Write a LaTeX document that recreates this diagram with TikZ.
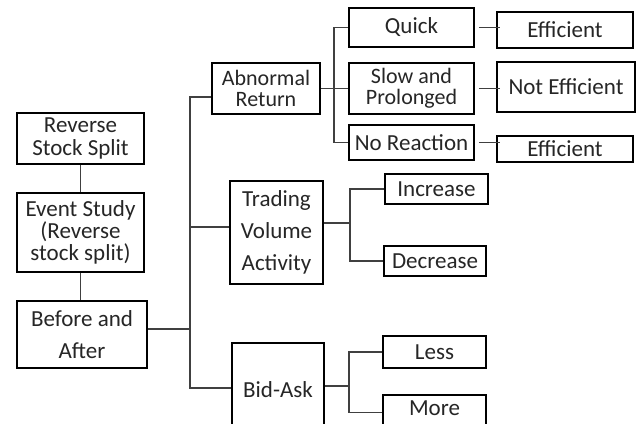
\documentclass[tikz,border=0pt]{standalone}
\usepackage{fontspec}
\setmainfont{Carlito}
\begin{document}
\begin{tikzpicture}[x=1pt,y=-1pt,
  box/.style={draw=black,line width=1.8pt,fill=white,inner sep=0pt,align=center,
    font=\fontsize{23}{23}\selectfont,text=black!85},
  conn/.style={draw=black!75,line width=1.7pt},
  tight/.style={font=\fontsize{22}{21.5}\selectfont},
  wide/.style={font=\fontsize{23}{32}\selectfont}]
\useasboundingbox (0,0) rectangle (636,423);
% left column
\node[box,minimum width=127,minimum height=51] (rss) at (80.5,138.5) {Reverse\\Stock Split};
\node[box,font=\fontsize{23}{22}\selectfont,minimum width=127,minimum height=79] (ev) at (80.5,232.5) {Event Study\\(Reverse\\stock split)};
\node[box,wide,minimum width=130,minimum height=67] (ba) at (82,334.5) {Before and\\After};
% middle column
\node[box,tight,minimum width=108,minimum height=51] (ar) at (266,88.5) {Abnormal\\Return};
\node[box,wide,minimum width=93,minimum height=103] (tva) at (276.5,232.5) {Trading\\Volume\\Activity};
\node[box,minimum width=92,minimum height=85,text height=26pt,text depth=3pt] (bid) at (278,385.5) {Bid-Ask};
% abnormal return branch
\node[box,minimum width=125,minimum height=39] (quick) at (411.5,27.5) {Quick};
\node[box,tight,minimum width=125,minimum height=51] (slow) at (411.5,88.5) {Slow and\\Prolonged};
\node[box,minimum width=125,minimum height=35] (nore) at (411.5,142.5) {No Reaction};
\node[box,minimum width=136,minimum height=36] (eff1) at (565,30) {Efficient};
\node[box,minimum width=138,minimum height=50] (neff) at (566,87) {Not Efficient};
\node[box,minimum width=136,minimum height=26] (eff3) at (565,149) {Efficient};
% trading volume branch
\node[box,minimum width=103,minimum height=30] (inc) at (436.5,189) {Increase};
\node[box,minimum width=102,minimum height=30] (dec) at (435,261) {Decrease};
% bid-ask branch
\node[box,minimum width=103,minimum height=32] (less) at (434.5,352) {Less};
\node[box,minimum width=103,minimum height=35,text height=15pt,text depth=9pt] (more) at (434.5,412.5) {More};
% junction coordinates
\coordinate (t1) at (190,97);
\coordinate (t2) at (190,388);
\coordinate (b1) at (334,88.5);
\coordinate (b2) at (350,223);
\coordinate (b3) at (349,386);
% connectors
\draw[conn] (rss.south) -- (ev.north);
\draw[conn] (ev.south) -- (ev.south |- ba.north);
\draw[conn] ([yshift=5.5pt]ba.east) -- ([yshift=5.5pt]ba.east -| t1);
\draw[conn] (ar.west |- t1) -- (t1) -- (t2) -- (bid.west |- t2);
\draw[conn] (tva.west |- 0,227) -- (t1 |- 0,227);
\draw[conn] (ar.east) -- (b1);
\draw[conn] (quick.west) -| (b1) |- (nore.west);
\draw[conn] (b1) -- (slow.west);
\draw[conn] ([xshift=4pt]quick.east) -- ([xshift=4pt]quick.east -| eff1.west);
\draw[conn] ([xshift=4pt]slow.east) -- ([xshift=4pt]slow.east -| neff.west);
\draw[conn] ([xshift=4pt]nore.east) -- ([xshift=4pt]nore.east -| eff3.west);
\draw[conn] (tva.east |- b2) -- (b2);
\draw[conn] (inc.west) -| (b2) |- (dec.west);
\draw[conn] (bid.east |- b3) -- (b3);
\draw[conn] (less.west) -| (b3) |- (more.west);
\end{tikzpicture}
\end{document}
